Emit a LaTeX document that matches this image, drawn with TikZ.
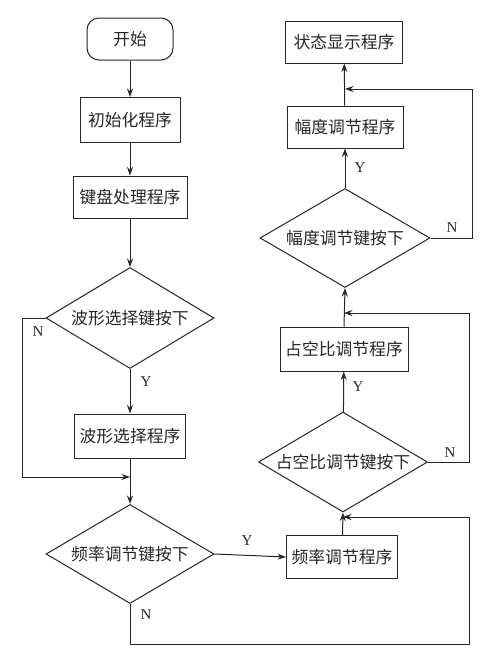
\documentclass[tikz,border=0pt]{standalone}
\usepackage{fontspec}
\setmainfont{Liberation Serif}
\newfontfamily\cjk{Noto Sans CJK SC}
\usetikzlibrary{shapes.geometric,arrows.meta}
\begin{document}
\begin{tikzpicture}[x=1pt,y=-1pt,
  every node/.style={inner sep=0pt},
  line/.style={draw=black!85,line width=1pt},
  arr/.style={line,-{Stealth[length=8.5pt,width=6pt]}},
  procbox/.style={draw=black!85,line width=1pt,rectangle,font=\cjk\fontsize{16.8}{19}\selectfont,text=black!85},
  startbox/.style={procbox,rounded corners=12pt},
  decide/.style={draw=black!85,line width=1pt,diamond,aspect=1.7,font=\cjk\fontsize{16.8}{19}\selectfont,text=black!85},
  lab/.style={font=\fontsize{15}{17}\selectfont,text=black!85}]
\useasboundingbox (0,0) rectangle (503,662);
% left column
\node[startbox,minimum width=86pt,minimum height=42pt] (start) at (130,39) {开始};
\node[procbox,minimum width=100pt,minimum height=45pt] (init) at (130,120) {初始化程序};
\node[procbox,minimum width=114pt,minimum height=42pt] (key) at (130,197) {键盘处理程序};
\node[decide,minimum width=168pt,minimum height=101pt] (d1) at (130,318) {波形选择键按下};
\node[procbox,minimum width=111pt,minimum height=44pt] (wave) at (130,436) {波形选择程序};
\node[decide,minimum width=168pt,minimum height=99pt] (d2) at (130,554) {频率调节键按下};
% right column
\node[procbox,minimum width=111pt,minimum height=43pt] (freq) at (342,557) {频率调节程序};
\node[decide,minimum width=169pt,minimum height=100pt] (d3) at (343,462) {占空比调节键按下};
\node[procbox,minimum width=128pt,minimum height=44pt] (duty) at (344,349) {占空比调节程序};
\node[decide,minimum width=170pt,minimum height=99pt] (d4) at (345,238) {幅度调节键按下};
\node[procbox,minimum width=116pt,minimum height=42pt] (amp) at (345,127) {幅度调节程序};
\node[procbox,minimum width=117pt,minimum height=42pt] (status) at (344,42) {状态显示程序};
% junctions
\coordinate (j1) at (130,477);
\coordinate (j2) at (343,517);
\coordinate (j3) at (344,313);
\coordinate (j4) at (345,89);
\coordinate (c1a) at (22,318);
\coordinate (c1b) at (22,477);
\coordinate (c2a) at (130,644);
\coordinate (c2b) at (469,644);
\coordinate (c2c) at (469,517);
\coordinate (c3a) at (469,462);
\coordinate (c3b) at (469,313);
\coordinate (c4a) at (472,238);
\coordinate (c4b) at (472,89);
% connectors
\draw[arr] (start) -- (init);
\draw[arr] (init) -- (key);
\draw[arr] (key) -- (d1);
\draw[arr] (d1) -- (wave);
\draw[arr] (d1.west) -- (c1a) -- (c1b) -- (j1);
\draw[arr] (wave) -- (d2);
\draw[arr] (d2.east) -- (freq.west);
\draw[arr] (d2.south) -- (c2a) -- (c2b) -- (c2c) -- (j2);
\draw[arr] (freq) -- (d3.south);
\draw[arr] (d3) -- (duty);
\draw[arr] (d3.east) -- (c3a) -- (c3b) -- (j3);
\draw[arr] (duty.north) -- (d4.south);
\draw[arr] (d4) -- (amp);
\draw[arr] (d4.east) -- (c4a) -- (c4b) -- (j4);
\draw[arr] (amp) -- (status);
% labels
\node[lab] (y1) at (146,382) {Y};
\node[lab] (n1) at (38,332) {N};
\node[lab] (y2) at (247,541) {Y};
\node[lab] (n2) at (146,615) {N};
\node[lab] (y3) at (358,387) {Y};
\node[lab] (n3) at (450,453) {N};
\node[lab] (y4) at (360,168) {Y};
\node[lab] (n4) at (452,228) {N};
\end{tikzpicture}
\end{document}
